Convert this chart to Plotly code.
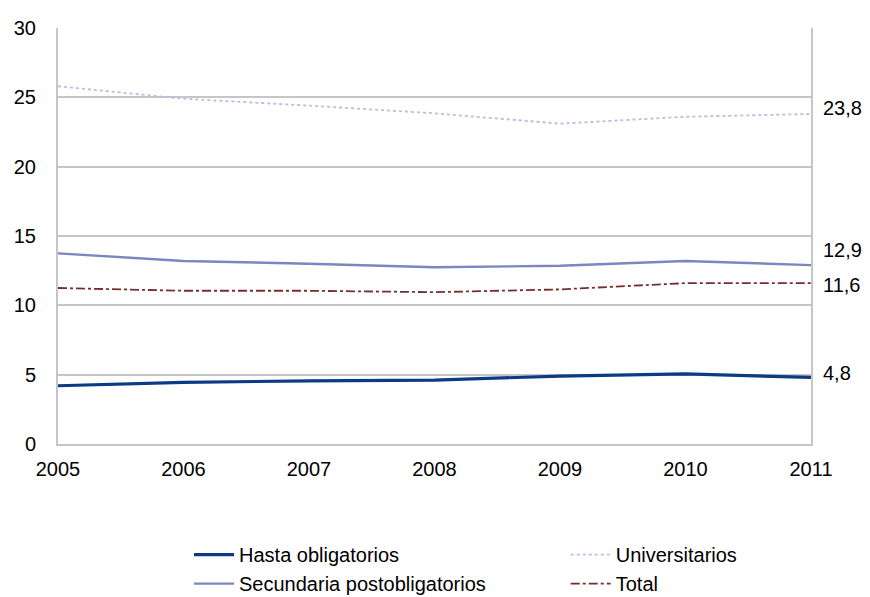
import plotly.graph_objects as go

years = [2005, 2006, 2007, 2008, 2009, 2010, 2011]
hasta = [4.2, 4.45, 4.55, 4.6, 4.9, 5.05, 4.8]
secundaria = [13.75, 13.2, 13.0, 12.75, 12.85, 13.2, 12.9]
universitarios = [25.8, 24.9, 24.4, 23.85, 23.1, 23.6, 23.8]
total = [11.25, 11.05, 11.05, 10.95, 11.15, 11.6, 11.6]

names = ["Hasta obligatorios", "Secundaria postobligatorios", "Universitarios", "Total"]
FONT = "Liberation Sans, Arial, sans-serif"

fig = go.Figure()
fig.add_trace(go.Scatter(x=years, y=hasta, name=names[0], mode="lines",
                         line=dict(color="#0b3a86", width=3.2), legend="legend"))
fig.add_trace(go.Scatter(x=years, y=secundaria, name=names[1], mode="lines",
                         line=dict(color="#7c86c0", width=2.4), legend="legend"))
fig.add_trace(go.Scatter(x=years, y=universitarios, name=names[2], mode="lines",
                         line=dict(color="#b9bde3", width=1.8, dash="dot"), legend="legend2"))
fig.add_trace(go.Scatter(x=years, y=total, name=names[3], mode="lines",
                         line=dict(color="#7a2d2d", width=1.8, dash="dashdot"), legend="legend2"))

shifts = [4, 15, 6, -2]
for series, sh in zip([hasta, secundaria, universitarios, total], shifts):
    v = series[-1]
    fig.add_annotation(x=years[-1], y=v, xref="x", yref="y", showarrow=False,
                       text=f"{v:.1f}".replace(".", ","), xanchor="left", xshift=10,
                       yshift=sh, font=dict(size=20, color="#000000", family=FONT))

fig.update_layout(
    width=862, height=589,
    margin=dict(l=50, r=59, t=20, b=153, autoexpand=False),
    paper_bgcolor="white", plot_bgcolor="white",
    font=dict(family=FONT, size=20, color="#000000"),
    xaxis=dict(range=[2005, 2011], tickvals=years, ticktext=[str(y) for y in years],
               showgrid=False, zeroline=False, showline=True, linecolor="#c6c6c6",
               linewidth=2, mirror=False, ticks="", ticklabelstandoff=6, automargin=False),
    yaxis=dict(range=[0, 30], tickvals=[0, 5, 10, 15, 20, 25, 30],
               showgrid=True, gridcolor="#c6c6c6", gridwidth=2, zeroline=False,
               showline=True, linecolor="#c6c6c6", linewidth=2, mirror=True,
               ticks="", ticklabelstandoff=16, automargin=False),
    legend=dict(xref="container", yref="container", x=0.210, y=0.105,
                xanchor="left", yanchor="top", orientation="v",
                font=dict(size=20, family=FONT), bgcolor="rgba(0,0,0,0)",
                tracegroupgap=0, itemwidth=40),
    legend2=dict(xref="container", yref="container", x=0.647, y=0.105,
                 xanchor="left", yanchor="top", orientation="v",
                 font=dict(size=20, family=FONT), bgcolor="rgba(0,0,0,0)",
                 tracegroupgap=0, itemwidth=40),
    showlegend=True,
)

fig.write_html("out.html")
